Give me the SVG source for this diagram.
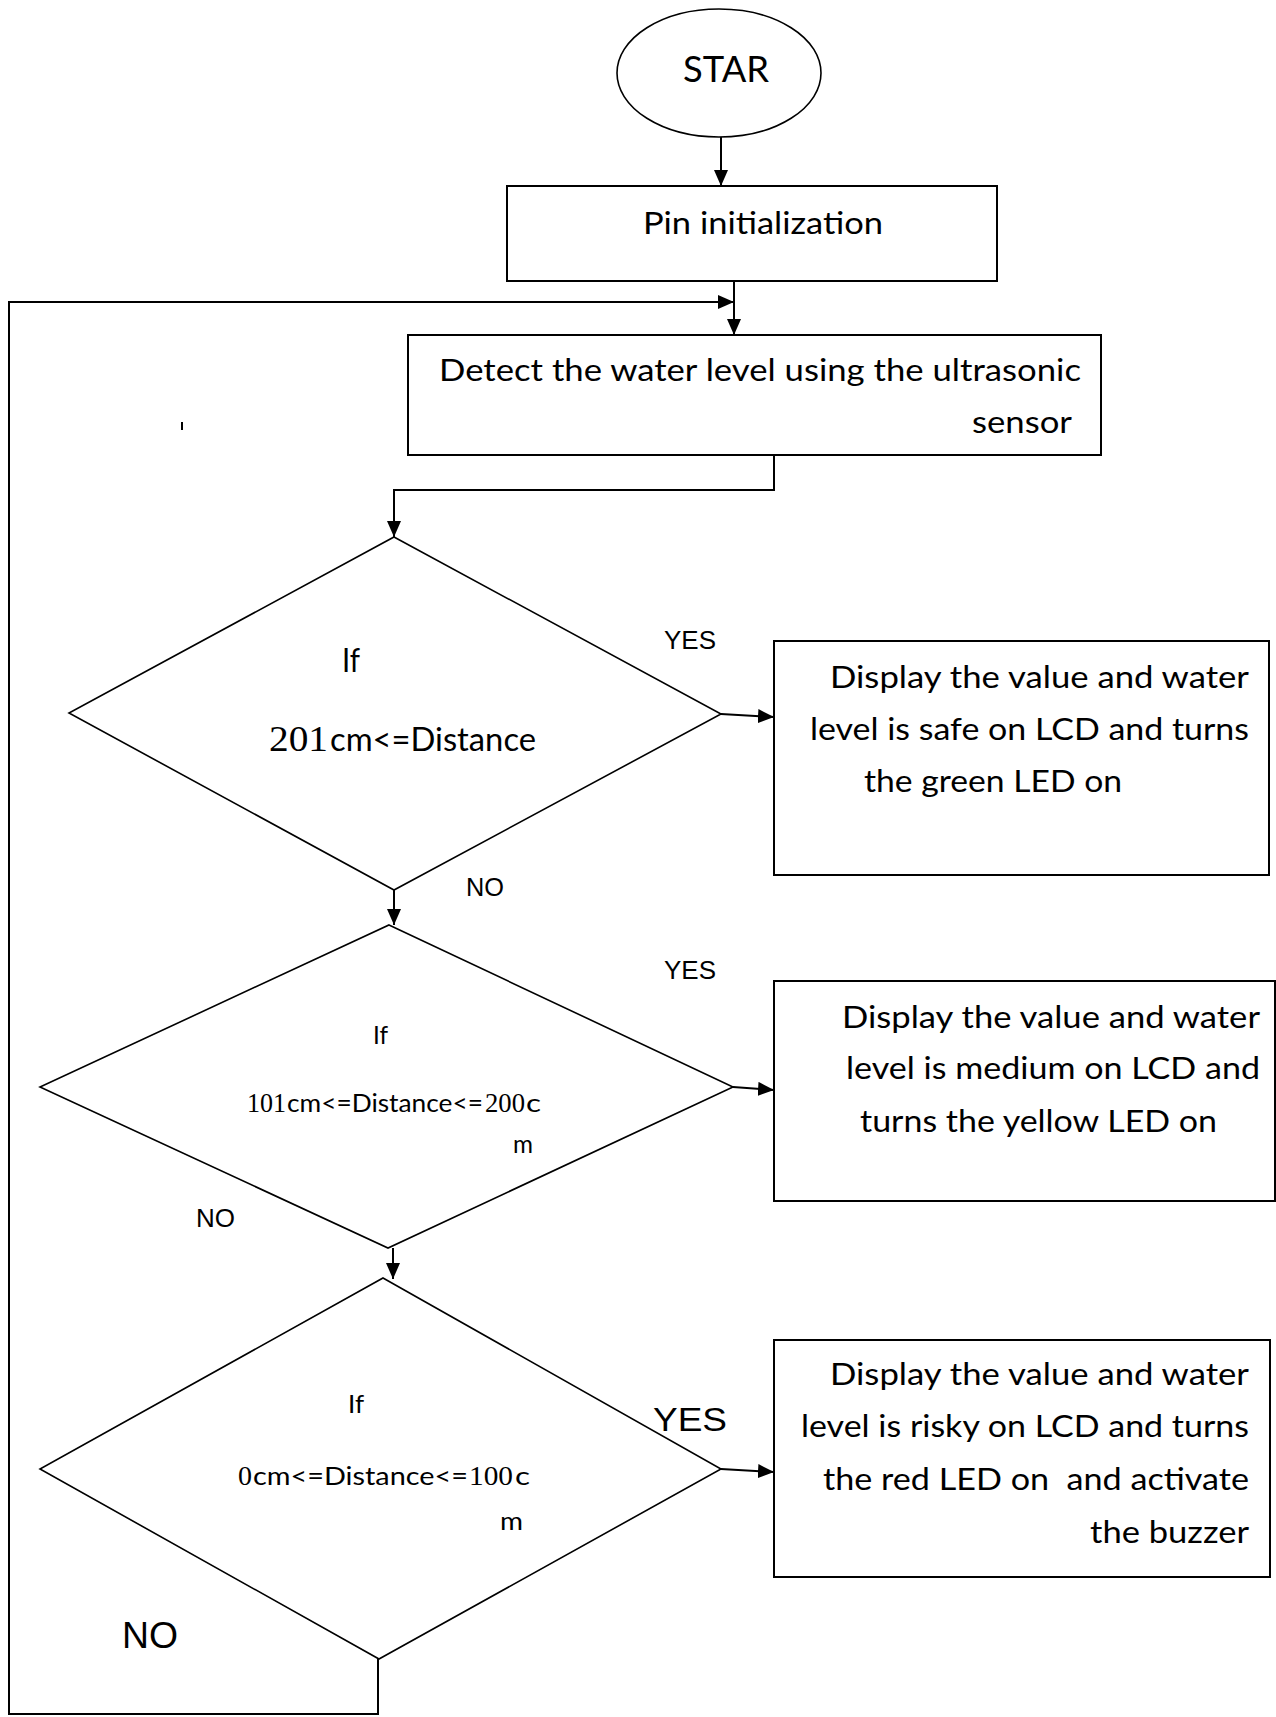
<svg xmlns="http://www.w3.org/2000/svg" width="1276" height="1717" viewBox="0 0 1276 1717">
<defs>
<style>
.shape{fill:#fff;stroke:#000;stroke-width:1.6}
.box{fill:#fff;stroke:#000;stroke-width:2}
.conn{fill:none;stroke:#000;stroke-width:2}
.c{font-family:Lato,"Open Sans",sans-serif;fill:#000}
.t{font-family:"Liberation Serif","Times New Roman",serif;fill:#000}
.a{font-family:"Liberation Sans",Arial,sans-serif;fill:#000}
.pre{white-space:pre}
</style>
<marker id="arr" markerUnits="userSpaceOnUse" markerWidth="16" markerHeight="14" refX="16" refY="7" orient="auto">
<path d="M0,0 L16,7 L0,14 z" fill="#000"/>
</marker>
</defs>
<rect width="1276" height="1717" fill="#fff"/>

<g id="connectors">
<line class="conn" x1="721" y1="137" x2="721" y2="186" marker-end="url(#arr)"/>
<line class="conn" x1="734" y1="281" x2="734" y2="335" marker-end="url(#arr)"/>
<polyline class="conn" points="378,1659 378,1714 9,1714 9,302 734,302" stroke-width="2.4" marker-end="url(#arr)"/>
<polyline class="conn" points="774,455 774,490 394,490 394,537" stroke-width="1.8" marker-end="url(#arr)"/>
<line class="conn" x1="721" y1="714" x2="774" y2="717" stroke-width="2.6" marker-end="url(#arr)"/>
<line class="conn" x1="394" y1="890" x2="394" y2="925" marker-end="url(#arr)"/>
<line class="conn" x1="733" y1="1087" x2="774" y2="1090" stroke-width="2.6" marker-end="url(#arr)"/>
<line class="conn" x1="393" y1="1248" x2="393" y2="1279" marker-end="url(#arr)"/>
<line class="conn" x1="721" y1="1469" x2="774" y2="1472" stroke-width="2.6" marker-end="url(#arr)"/>
<line class="conn" x1="182" y1="422" x2="182" y2="430" stroke-width="1.5"/>
</g>

<g id="node-start">
<ellipse class="shape" cx="719" cy="73" rx="102" ry="64"/>
<text class="c" x="683" y="82" font-size="37" textLength="86" lengthAdjust="spacingAndGlyphs">STAR</text>
</g>

<g id="node-init">
<rect class="box" x="507" y="186" width="490" height="95"/>
<text class="c" x="643" y="234" font-size="30" textLength="240" lengthAdjust="spacingAndGlyphs">Pin initialization</text>
</g>

<g id="node-detect">
<rect class="box" x="408" y="335" width="693" height="120"/>
<text class="c" x="439" y="381" font-size="30" textLength="642" lengthAdjust="spacingAndGlyphs">Detect the water level using the ultrasonic</text>
<text class="c" x="972" y="433" font-size="30" textLength="100" lengthAdjust="spacingAndGlyphs">sensor</text>
</g>

<g id="node-d1">
<polygon class="shape" points="394,537 721,714 394,890 69,713"/>
<text class="c" x="342" y="672" font-size="33" textLength="18" lengthAdjust="spacingAndGlyphs">If</text>
<text class="t" x="269" y="751" font-size="36" textLength="59" lengthAdjust="spacingAndGlyphs">201</text>
<text class="c" x="330" y="751" font-size="33" textLength="206" lengthAdjust="spacingAndGlyphs">cm&lt;=Distance</text>
</g>

<g id="node-safe">
<rect class="box" x="774" y="641" width="495" height="234"/>
<text class="c" x="830" y="688" font-size="30" textLength="419" lengthAdjust="spacingAndGlyphs">Display the value and water</text>
<text class="c" x="810" y="740" font-size="30" textLength="439" lengthAdjust="spacingAndGlyphs">level is safe on LCD and turns</text>
<text class="c" x="864" y="792" font-size="30" textLength="258" lengthAdjust="spacingAndGlyphs">the green LED on</text>
</g>

<g id="node-d2">
<polygon class="shape" points="389,925 733,1087 388,1248 40,1087"/>
<text class="c" x="373" y="1044" font-size="25" textLength="15" lengthAdjust="spacingAndGlyphs">If</text>
<text class="t" x="247" y="1112" font-size="27" textLength="39" lengthAdjust="spacingAndGlyphs">101</text>
<text class="c" x="287" y="1112" font-size="25" textLength="196" lengthAdjust="spacingAndGlyphs">cm&lt;=Distance&lt;=</text>
<text class="t" x="485" y="1112" font-size="27" textLength="40" lengthAdjust="spacingAndGlyphs">200</text>
<text class="c" x="526" y="1112" font-size="25" textLength="15" lengthAdjust="spacingAndGlyphs">c</text>
<text class="c" x="513" y="1153" font-size="25" textLength="20" lengthAdjust="spacingAndGlyphs">m</text>
</g>

<g id="node-medium">
<rect class="box" x="774" y="981" width="501" height="220"/>
<text class="c" x="842" y="1028" font-size="30" textLength="418" lengthAdjust="spacingAndGlyphs">Display the value and water</text>
<text class="c" x="846" y="1079" font-size="30" textLength="414" lengthAdjust="spacingAndGlyphs">level is medium on LCD and</text>
<text class="c" x="860" y="1132" font-size="30" textLength="357" lengthAdjust="spacingAndGlyphs">turns the yellow LED on</text>
</g>

<g id="node-d3">
<polygon class="shape" points="383,1278 721,1469 379,1659 40,1469"/>
<text class="c" x="348" y="1413" font-size="25" textLength="16" lengthAdjust="spacingAndGlyphs">If</text>
<text class="t" x="238" y="1485" font-size="27" textLength="14" lengthAdjust="spacingAndGlyphs">0</text>
<text class="c" x="253" y="1485" font-size="25" textLength="215" lengthAdjust="spacingAndGlyphs">cm&lt;=Distance&lt;=</text>
<text class="t" x="469" y="1485" font-size="27" textLength="44" lengthAdjust="spacingAndGlyphs">100</text>
<text class="c" x="515" y="1485" font-size="25" textLength="15" lengthAdjust="spacingAndGlyphs">c</text>
<text class="c" x="500" y="1530" font-size="25" textLength="23" lengthAdjust="spacingAndGlyphs">m</text>
</g>

<g id="node-risky">
<rect class="box" x="774" y="1340" width="496" height="237"/>
<text class="c" x="830" y="1385" font-size="30" textLength="419" lengthAdjust="spacingAndGlyphs">Display the value and water</text>
<text class="c" x="801" y="1437" font-size="30" textLength="448" lengthAdjust="spacingAndGlyphs">level is risky on LCD and turns</text>
<text class="c pre" x="823" y="1490" font-size="30" textLength="426" lengthAdjust="spacingAndGlyphs">the red LED on  and activate</text>
<text class="c" x="1090" y="1543" font-size="30" textLength="159" lengthAdjust="spacingAndGlyphs">the buzzer</text>
</g>

<g id="labels">
<text class="a" x="664" y="649" font-size="26" textLength="52" lengthAdjust="spacingAndGlyphs">YES</text>
<text class="a" x="466" y="896" font-size="26" textLength="38" lengthAdjust="spacingAndGlyphs">NO</text>
<text class="a" x="664" y="979" font-size="26" textLength="52" lengthAdjust="spacingAndGlyphs">YES</text>
<text class="a" x="196" y="1227" font-size="26" textLength="39" lengthAdjust="spacingAndGlyphs">NO</text>
<text class="a" x="653" y="1431" font-size="34" textLength="74" lengthAdjust="spacingAndGlyphs">YES</text>
<text class="a" x="122" y="1648" font-size="36" textLength="56" lengthAdjust="spacingAndGlyphs">NO</text>
</g>
</svg>
